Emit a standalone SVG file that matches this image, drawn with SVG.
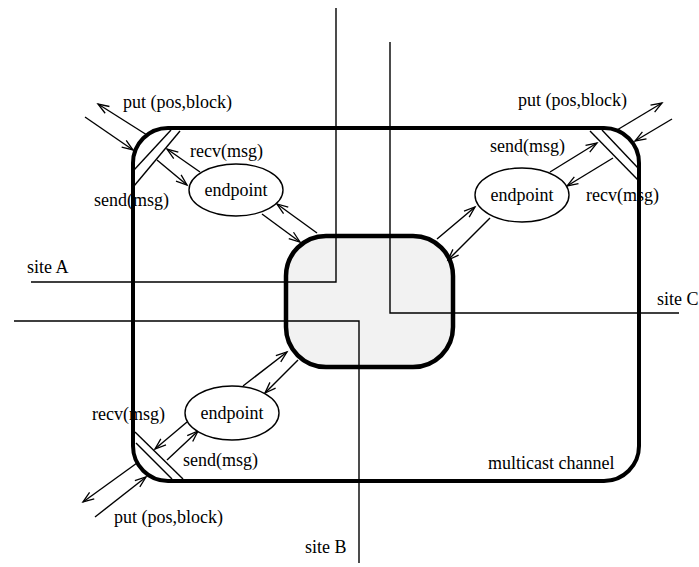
<svg xmlns="http://www.w3.org/2000/svg" width="699" height="567" viewBox="0 0 699 567">
<defs>
<marker id="ah" markerUnits="userSpaceOnUse" markerWidth="14" markerHeight="12" refX="12" refY="5" orient="auto" overflow="visible">
<path d="M1,1 L12,5 L1,9" fill="none" stroke="#000" stroke-width="1.3"/>
</marker>
<style>
.t{font-family:"Liberation Serif","Times New Roman",serif;font-size:18px;fill:#000}
.ln{stroke:#000;stroke-width:1.4;fill:none}
.ar{stroke:#000;stroke-width:1.4;fill:none;marker-end:url(#ah)}
.el{fill:#fff;stroke:#000;stroke-width:1.4}
</style>
</defs>
<rect width="699" height="567" fill="#fff"/>
<g id="channel">
<rect x="133" y="128" width="506" height="353" rx="35" ry="35" fill="none" stroke="#000" stroke-width="4"/>
<text class="t" x="488" y="469">multicast channel</text>
</g>
<g id="hub">
<rect x="286" y="236" width="167" height="131" rx="40" ry="40" fill="#f2f2f2" stroke="#000" stroke-width="4.5"/>
</g>
<g id="ports">
<line class="ln" x1="134" y1="170" x2="171" y2="130"/>
<line class="ln" x1="134" y1="186" x2="180" y2="131"/>
<line class="ln" x1="590" y1="131" x2="638" y2="180"/>
<line class="ln" x1="602" y1="130" x2="638" y2="168"/>
<line class="ln" x1="135" y1="432" x2="183" y2="479"/>
<line class="ln" x1="136" y1="443" x2="172" y2="479"/>
</g>
<g id="connectors">
<polyline class="ln" points="336,8 336,282 31,282"/>
<polyline class="ln" points="390,42 390,313 679,313"/>
<polyline class="ln" points="14,321 359,321 359,563"/>
<line class="ar" x1="147" y1="135" x2="98" y2="104"/>
<line class="ar" x1="85" y1="117" x2="133" y2="150"/>
<line class="ar" x1="200" y1="172" x2="167" y2="149"/>
<line class="ar" x1="157" y1="160" x2="187" y2="185"/>
<line class="ar" x1="317" y1="233" x2="277" y2="204"/>
<line class="ar" x1="262" y1="214" x2="300" y2="242"/>
<line class="ar" x1="617" y1="130" x2="662" y2="103"/>
<line class="ar" x1="672" y1="119" x2="635" y2="141"/>
<line class="ar" x1="550" y1="172" x2="597" y2="143"/>
<line class="ar" x1="613" y1="158" x2="567" y2="186"/>
<line class="ar" x1="437" y1="239" x2="475" y2="207"/>
<line class="ar" x1="490" y1="218" x2="448" y2="260"/>
<line class="ar" x1="137" y1="463" x2="83" y2="502"/>
<line class="ar" x1="95" y1="517" x2="146" y2="477"/>
<line class="ar" x1="187" y1="422" x2="155" y2="449"/>
<line class="ar" x1="167" y1="460" x2="198" y2="431"/>
<line class="ar" x1="243" y1="386" x2="287" y2="352"/>
<line class="ar" x1="298" y1="360" x2="265" y2="393"/>
</g>
<g id="endpointA">
<ellipse class="el" cx="236" cy="190" rx="47" ry="26"/>
<text class="t" x="236" y="196" text-anchor="middle">endpoint</text>
</g>
<g id="endpointC">
<ellipse class="el" cx="522" cy="195" rx="47" ry="27"/>
<text class="t" x="522" y="201" text-anchor="middle">endpoint</text>
</g>
<g id="endpointB">
<ellipse class="el" cx="232" cy="413" rx="47" ry="27"/>
<text class="t" x="232" y="419" text-anchor="middle">endpoint</text>
</g>
<g id="labels">
<text class="t" x="123" y="108">put (pos,block)</text>
<text class="t" x="190" y="157">recv(msg)</text>
<text class="t" x="94" y="206">send(msg)</text>
<text class="t" x="518" y="106">put (pos,block)</text>
<text class="t" x="490" y="152">send(msg)</text>
<text class="t" x="586" y="201">recv(msg)</text>
<text class="t" x="92" y="420">recv(msg)</text>
<text class="t" x="183" y="466">send(msg)</text>
<text class="t" x="114" y="523">put (pos,block)</text>
<text class="t" x="27" y="273">site A</text>
<text class="t" x="657" y="305">site C</text>
<text class="t" x="305" y="553">site B</text>
</g>
</svg>
